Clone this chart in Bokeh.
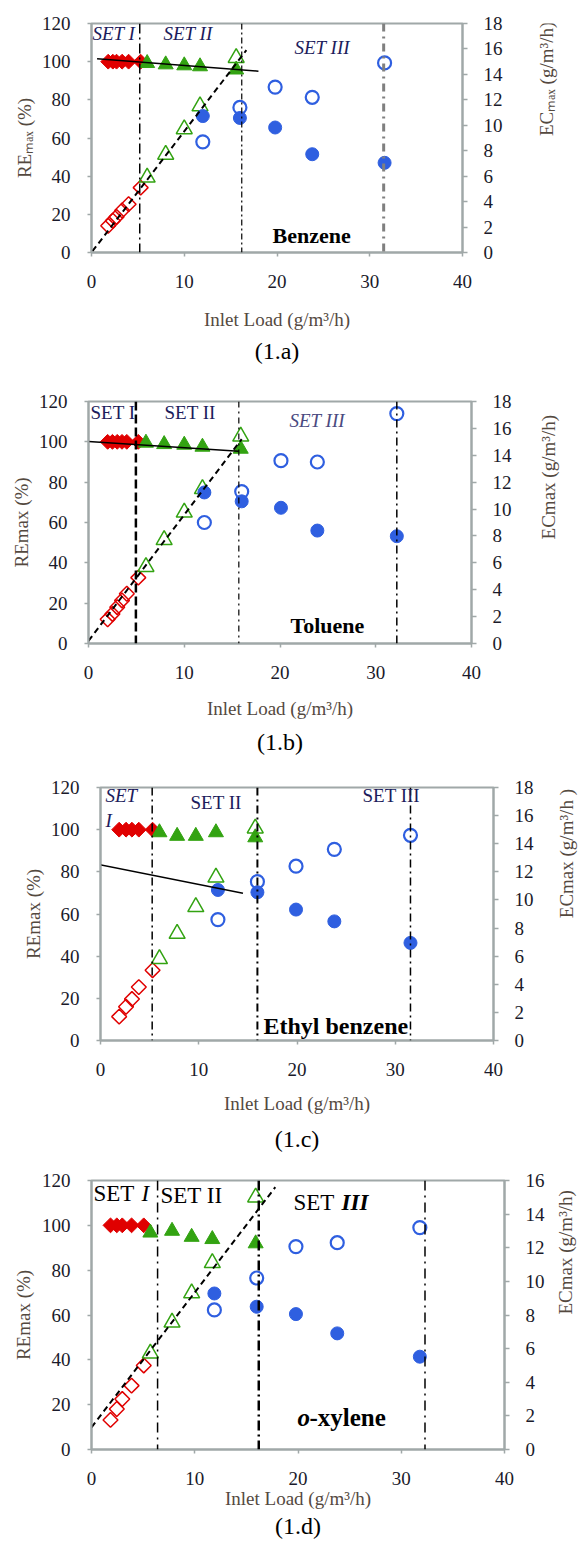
from bokeh.plotting import figure
from bokeh.models import Range1d, LinearAxis, FixedTicker, Label, Span, Title
from bokeh.layouts import column, row
from bokeh.embed import file_html
from bokeh.resources import INLINE

FONT = "Liberation Serif"
RED = "#e00000"
GREEN = "#33a312"
BLUE = "#2f5fe0"
FRAME = "#a0a8a8"
TICK_TXT = "#1a1a2a"
TITLE_TXT = "#54493f"
NAVY = "#1c1c5c"

x_ticks = [0, 10, 20, 30, 40]
re_ticks = [0, 20, 40, 60, 80, 100, 120]

# ---------------- Panel (1.a) Benzene ----------------
a_il1 = [1.8, 2.3, 2.7, 3.3, 4.0, 5.3]
a_re1 = [100, 100, 100, 100, 100, 100]
a_ec1 = [2.1, 2.5, 2.8, 3.3, 3.8, 5.1]
a_il2 = [6.0, 8.0, 10.0, 11.7, 15.6]
a_re2 = [99.2, 98.5, 98.0, 97.5, 95.8]
a_ec2 = [5.9, 7.7, 9.7, 11.5, 15.3]
a_il3 = [12.0, 16.0, 19.8, 23.8, 31.6]
a_re3 = [71.5, 70.5, 65.5, 51.5, 47.0]
a_ec3 = [8.7, 11.4, 13.0, 12.2, 14.9]
a_bounds = [5.2, 16.2, 31.5]
a_fit_re_x = [0.6, 18.0]
a_fit_re_y = [101.5, 95.0]
a_fit_ec_x = [0.1, 16.7]
a_fit_ec_y = [0.1, 15.9]

# ---------------- Panel (1.b) Toluene ----------------
b_il1 = [2.0, 2.5, 3.0, 3.5, 4.0, 5.2]
b_re1 = [100, 100, 100, 100, 100, 100]
b_ec1 = [1.8, 2.2, 2.7, 3.2, 3.7, 4.9]
b_il2 = [6.0, 7.9, 10.0, 11.9, 15.9]
b_re2 = [99.5, 98.8, 98.5, 97.5, 96.5]
b_ec2 = [5.7, 7.7, 9.75, 11.5, 15.4]
b_il3 = [12.1, 16.0, 20.1, 23.9, 32.2]
b_re3 = [74.9, 70.5, 67.3, 56.0, 53.2]
b_ec3 = [9.0, 11.3, 13.6, 13.5, 17.1]
b_bounds = [4.95, 15.7, 32.2]
b_fit_re_x = [0.0, 15.7]
b_fit_re_y = [100.2, 95.3]
b_fit_ec_x = [0.0, 16.0]
b_fit_ec_y = [0.2, 15.2]

# ---------------- Panel (1.c) Ethyl benzene ----------------
c_il1 = [1.9, 2.6, 3.2, 3.9, 5.3]
c_re1 = [100, 100, 100, 100, 100]
c_ec1 = [1.7, 2.4, 2.95, 3.8, 5.0]
c_il2 = [6.0, 7.8, 9.7, 11.75, 15.75]
c_re2 = [98.7, 97.0, 97.0, 98.7, 96.3]
c_ec2 = [5.8, 7.6, 9.5, 11.6, 15.1]
c_il3 = [11.95, 15.97, 19.9, 23.8, 31.55]
c_re3 = [71.4, 70.3, 62.1, 56.5, 46.3]
c_ec3 = [8.6, 11.3, 12.4, 13.6, 14.6]
c_bounds = [5.26, 15.97, 31.55]
c_fit_re_x = [-1.3, 14.5]
c_fit_re_y = [84.5, 69.8]

# ---------------- Panel (1.d) o-xylene ----------------
d_il1 = [1.84, 2.45, 2.98, 3.88, 5.06]
d_re1 = [100, 100, 100, 100, 100]
d_ec1 = [1.76, 2.41, 3.0, 3.8, 5.0]
d_il2 = [5.7, 7.8, 9.7, 11.7, 15.9]
d_re2 = [96.7, 97.5, 94.8, 93.8, 91.9]
d_ec2 = [5.72, 7.56, 9.3, 11.1, 15.0]
d_il3 = [11.9, 16.0, 19.8, 23.8, 31.8]
d_re3 = [69.6, 63.7, 60.4, 51.8, 41.4]
d_ec3 = [8.3, 10.2, 12.07, 12.3, 13.2]
d_bounds = [6.4, 16.2, 32.3]
d_fit_ec_x = [0.0, 17.8]
d_fit_ec_y = [1.32, 15.6]


def style_axis(ax, standoff, tick_out):
    ax.axis_line_color = FRAME
    ax.axis_line_width = 2
    ax.major_tick_line_color = FRAME
    ax.major_tick_line_width = 1.5
    ax.major_tick_out = tick_out
    ax.major_tick_in = 0
    ax.minor_tick_out = 0
    ax.minor_tick_in = 0
    ax.major_label_text_font = FONT
    ax.major_label_text_font_size = "19px"
    ax.major_label_text_color = TICK_TXT
    ax.major_label_standoff = standoff


def make_panel(w, h, geo, ec_max, d, opts):
    left, right, top, bottom = geo
    p = figure(width=w, height=h, x_range=Range1d(0, 40), y_range=Range1d(0, 120),
               output_backend="svg", toolbar_location=None,
               min_border_left=left, min_border_right=w - right,
               min_border_top=top, min_border_bottom=h - bottom)
    p.extra_y_ranges = {"ec": Range1d(0, ec_max)}
    p.xgrid.visible = False
    p.ygrid.visible = False
    p.outline_line_color = FRAME
    p.outline_line_width = 2
    p.background_fill_color = "white"
    p.border_fill_color = "white"
    p.xaxis.ticker = FixedTicker(ticks=x_ticks)
    p.yaxis.ticker = FixedTicker(ticks=re_ticks)
    style_axis(p.xaxis[0], 18, 4)
    style_axis(p.yaxis[0], 17, 4)
    rax = LinearAxis(y_range_name="ec", ticker=FixedTicker(ticks=list(range(0, ec_max + 1, 2))))
    style_axis(rax, 16, 5)
    p.add_layout(rax, "right")

    # left axis title
    p.add_layout(Title(text=opts["l_title"], align="center", offset=opts["l_offset"],
                       standoff=opts["l_standoff"], text_font=FONT, text_font_size="19px",
                       text_font_style="normal", text_color=TITLE_TXT), "left")
    # x title and caption
    p.add_layout(Title(text="Inlet Load (g/m³/h)", align="center", offset=opts["x_offset"],
                       standoff=opts["x_standoff"], text_font=FONT, text_font_size="19px",
                       text_font_style="normal", text_color=TITLE_TXT), "below")
    p.add_layout(Title(text=opts["caption"], align="center", offset=opts["c_offset"],
                       standoff=opts["c_standoff"], text_font=FONT, text_font_size="24px",
                       text_font_style="normal", text_color="black"), "below")

    # SET I
    p.scatter(d["il1"], d["re1"], marker="square", angle=0.785398, size=10.5,
              fill_color=RED, line_color=RED)
    p.scatter(d["il1"], d["ec1"], marker="square", angle=0.785398, size=10.5, fill_color=None,
              line_color=RED, line_width=1.5, y_range_name="ec")
    # SET II
    p.scatter(d["il2"], d["re2"], marker="triangle", size=15, fill_color=GREEN, line_color=GREEN)
    p.scatter(d["il2"], d["ec2"], marker="triangle", size=16, fill_color=None,
              line_color=GREEN, line_width=1.5, y_range_name="ec")
    # SET III
    p.scatter(d["il3"], d["re3"], marker="circle", size=13, fill_color=BLUE, line_color=BLUE)
    p.scatter(d["il3"], d["ec3"], marker="circle", size=13, fill_color=None,
              line_color=BLUE, line_width=2.2, y_range_name="ec")

    for xb, (col, lw, dash) in zip(d["bounds"], d["bound_styles"]):
        p.add_layout(Span(location=xb, dimension="height", line_color=col,
                          line_width=lw, line_dash=dash))
    if "fit_re_x" in d:
        p.line(d["fit_re_x"], d["fit_re_y"], line_color="black", line_width=1.5)
    if "fit_ec_x" in d:
        p.line(d["fit_ec_x"], d["fit_ec_y"], line_color="black", line_width=2,
               line_dash="6 4", y_range_name="ec")
    return p


def side_title(w, h, cx, cy, text):
    """Narrow strip to the right of a panel holding the bottom-to-top EC axis title."""
    s = figure(width=w, height=h, x_range=Range1d(0, w), y_range=Range1d(0, h),
               output_backend="svg", toolbar_location=None,
               x_axis_location=None, y_axis_location=None,
               min_border_left=0, min_border_right=0, min_border_top=0, min_border_bottom=0)
    s.grid.visible = False
    s.outline_line_color = None
    s.background_fill_color = "white"
    s.border_fill_color = "white"
    s.add_layout(Label(x=cx, y=h - cy, text=text, text_font=FONT, text_font_size="19px",
                       text_color=TITLE_TXT, text_align="center", text_baseline="middle",
                       angle=1.5707963))
    return s


def lab(p, geo, px, py, text, size, style="normal", color="black"):
    left, right, top, bottom = geo
    x = (px - left) / (right - left) * 40
    y = (bottom - py) / (bottom - top) * 120
    p.add_layout(Label(x=x, y=y, text=text, text_font=FONT, text_font_size=f"{size}px",
                       text_font_style=style, text_color=color, text_align="left",
                       text_baseline="middle"))


# ---- panel a ----
geo_a = (91, 462, 23, 252)
pa = make_panel(532, 372, geo_a, 18, dict(
    il1=a_il1, re1=a_re1, ec1=a_ec1, il2=a_il2, re2=a_re2, ec2=a_ec2,
    il3=a_il3, re3=a_re3, ec3=a_ec3, bounds=a_bounds,
    bound_styles=[("black", 1.5, "10 4 2 4"), ("black", 1.2, "6 3 2 3"), ("#808080", 3, "8 5 2 5")],
    fit_re_x=a_fit_re_x, fit_re_y=a_fit_re_y, fit_ec_x=a_fit_ec_x, fit_ec_y=a_fit_ec_y),
    dict(l_title="REₘₐₓ (%)", l_offset=39, l_standoff=7,
         x_offset=28, x_standoff=33, caption="(1.a)", c_offset=3, c_standoff=-21))
sa = side_title(46, 372, 14, 90, "ECₘₐₓ (g/m³/h)")
lab(pa, geo_a, 92, 33, "SET I", 19, "italic", NAVY)
lab(pa, geo_a, 163, 33, "SET II", 19, "italic", NAVY)
lab(pa, geo_a, 294, 47, "SET III", 19, "italic", NAVY)
lab(pa, geo_a, 272, 235, "Benzene", 22, "bold", "black")

# ---- panel b ----
geo_b = (88, 471, 29, 271)
pb = make_panel(534, 390, geo_b, 18, dict(
    il1=b_il1, re1=b_re1, ec1=b_ec1, il2=b_il2, re2=b_re2, ec2=b_ec2,
    il3=b_il3, re3=b_re3, ec3=b_ec3, bounds=b_bounds,
    bound_styles=[("black", 2.5, "9 4"), ("black", 1.2, "6 4 2 4"), ("black", 1.5, "8 4 2 4")],
    fit_re_x=b_fit_re_x, fit_re_y=b_fit_re_y, fit_ec_x=b_fit_ec_x, fit_ec_y=b_fit_ec_y),
    dict(l_title="REmax (%)", l_offset=50, l_standoff=7,
         x_offset=25, x_standoff=28, caption="(1.b)", c_offset=0, c_standoff=-12))
sb = side_title(44, 390, 14, 122, "ECmax (g/m³/h)")
lab(pb, geo_b, 90, 40, "SET I", 19, "normal", NAVY)
lab(pb, geo_b, 164, 40, "SET II", 19, "normal", NAVY)
lab(pb, geo_b, 289, 48, "SET III", 19, "italic", "#4a4a80")
lab(pb, geo_b, 290, 253, "Toluene", 22, "bold", "black")

# ---- panel c ----
geo_c = (100, 493, 25, 278)
pc = make_panel(540, 398, geo_c, 18, dict(
    il1=c_il1, re1=c_re1, ec1=c_ec1, il2=c_il2, re2=c_re2, ec2=c_ec2,
    il3=c_il3, re3=c_re3, ec3=c_ec3, bounds=c_bounds,
    bound_styles=[("black", 1.5, "8 4 2 4"), ("black", 2, "8 4 2 4"), ("black", 1.5, "8 4 2 4")],
    fit_re_x=c_fit_re_x, fit_re_y=c_fit_re_y),
    dict(l_title="REmax (%)", l_offset=39, l_standoff=7,
         x_offset=20, x_standoff=25, caption="(1.c)", c_offset=-16, c_standoff=-5))
sc = side_title(38, 398, 26, 104, "ECmax (g/m³/h )")
lab(pc, geo_c, 105, 33, "SET", 19, "italic", NAVY)
lab(pc, geo_c, 105, 58, "I", 19, "italic", NAVY)
lab(pc, geo_c, 190, 40, "SET II", 19, "normal", NAVY)
lab(pc, geo_c, 362, 33, "SET III", 19, "normal", NAVY)
lab(pc, geo_c, 263, 263, "Ethyl benzene", 24, "bold", "black")

# ---- panel d ----
geo_d = (91, 504, 20, 289)
pd_ = make_panel(550, 386, geo_d, 16, dict(
    il1=d_il1, re1=d_re1, ec1=d_ec1, il2=d_il2, re2=d_re2, ec2=d_ec2,
    il3=d_il3, re3=d_re3, ec3=d_ec3, bounds=d_bounds,
    bound_styles=[("black", 1.5, "10 5 2 5"), ("black", 2.5, "10 4 2 4"), ("black", 1.5, "10 5 2 5")],
    fit_ec_x=d_fit_ec_x, fit_ec_y=d_fit_ec_y),
    dict(l_title="REmax (%)", l_offset=53, l_standoff=9,
         x_offset=5, x_standoff=-3, caption="(1.d)", c_offset=-17, c_standoff=7))
sd = side_title(28, 386, 15, 103, "ECmax (g/m³/h)")
lab(pd_, geo_d, 93, 33, "SET", 23, "normal", "black")
lab(pd_, geo_d, 141, 33, "I", 23, "italic", "black")
lab(pd_, geo_d, 160, 35, "SET II", 23, "normal", "black")
lab(pd_, geo_d, 293, 42, "SET", 23, "normal", "black")
lab(pd_, geo_d, 341, 42, "III", 23, "bold italic", "black")
lab(pd_, geo_d, 297, 257, "o", 25, "bold italic", "black")
lab(pd_, geo_d, 309, 257, "-xylene", 25, "bold", "black")

layout = column(row(pa, sa), row(pb, sb), row(pc, sc), row(pd_, sd))
open("out.html", "w").write(file_html(layout, INLINE))
